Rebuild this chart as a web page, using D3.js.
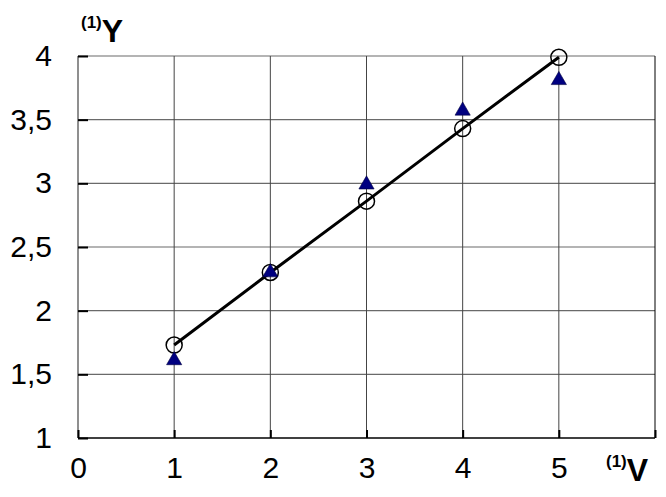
<!DOCTYPE html>
<html>
<head>
<meta charset="utf-8">
<script src="https://cdn.jsdelivr.net/npm/d3@7"></script>
<style>
html,body{margin:0;padding:0;background:#fff;}
svg{display:block;font-family:"Liberation Sans",Arial,sans-serif;}
</style>
</head>
<body>
<div id="chart"></div>
<script>
const xValues = [1, 2, 3, 4, 5];
const fitValues = [1.73, 2.30, 2.86, 3.43, 3.99];
const measuredValues = [1.61, 2.30, 2.99, 3.57, 3.81];
const xTicks = [0, 1, 2, 3, 4, 5, 6];
const xTickLabels = ["0", "1", "2", "3", "4", "5", ""];
const yTicks = [1, 1.5, 2, 2.5, 3, 3.5, 4];
const yTickLabels = ["1", "1,5", "2", "2,5", "3", "3,5", "4"];

const W = 666, H = 497;
const svg = d3.select("#chart").append("svg").attr("width", W).attr("height", H);

const x = d3.scaleLinear().domain([0, 6]).range([78, 655]);
const y = d3.scaleLinear().domain([1, 4]).range([438, 56]);

const grid = svg.append("g");
grid.selectAll("line.h").data(yTicks.slice(1)).enter().append("line")
  .attr("x1", x(0)).attr("x2", x(6))
  .attr("y1", d => y(d)).attr("y2", d => y(d))
  .attr("stroke", "#6a6a6a").attr("stroke-width", 1.2);
grid.selectAll("line.v").data(xTicks.slice(1)).enter().append("line")
  .attr("x1", d => x(d)).attr("x2", d => x(d))
  .attr("y1", y(1)).attr("y2", y(4))
  .attr("stroke", d => d === 6 ? "#000" : "#444").attr("stroke-width", 1);
svg.append("line").attr("x1", x(0)).attr("x2", x(0)).attr("y1", y(1)).attr("y2", y(4))
  .attr("stroke", "#6a6a6a").attr("stroke-width", 1.5);

const yAxis = d3.axisLeft(y).tickValues(yTicks).tickFormat((d, i) => yTickLabels[i]).tickSize(-10).tickPadding(26);
const gy = svg.append("g").attr("transform", `translate(${x(0)},0)`).call(yAxis);
gy.select(".domain").remove();
gy.selectAll(".tick line").attr("stroke", "#000").attr("stroke-width", 2);
gy.selectAll(".tick text").attr("font-size", 30).attr("fill", "#000")
  .attr("font-family", '"Liberation Sans",Arial,sans-serif');

const xAxis = d3.axisBottom(x).tickValues(xTicks).tickFormat((d, i) => xTickLabels[i]).tickSize(-8).tickPadding(19);
const gx = svg.append("g").attr("transform", `translate(0,${y(1)})`).call(xAxis);
gx.select(".domain").attr("stroke", "#000").attr("stroke-width", 1.5).attr("d", `M${x(0)},0H${x(6)}`);
gx.selectAll(".tick line").attr("stroke", "#000").attr("stroke-width", 2);
gx.selectAll(".tick text").attr("font-size", 30).attr("fill", "#000")
  .attr("font-family", '"Liberation Sans",Arial,sans-serif');

const pts = xValues.map((v, i) => [v, fitValues[i]]);
svg.append("path").datum(pts)
  .attr("d", d3.line().x(d => x(d[0])).y(d => y(d[1])))
  .attr("fill", "none").attr("stroke", "#000").attr("stroke-width", 3);

svg.selectAll("circle.fit").data(pts).enter().append("circle")
  .attr("cx", d => x(d[0])).attr("cy", d => y(d[1])).attr("r", 8)
  .attr("fill", "none").attr("stroke", "#000").attr("stroke-width", 1.5);

const tri = d3.symbol().type(d3.symbolTriangle).size(100);
svg.selectAll("path.meas").data(xValues.map((v, i) => [v, measuredValues[i]])).enter().append("path")
  .attr("d", tri)
  .attr("transform", d => `translate(${x(d[0])},${y(d[1])})`)
  .attr("fill", "#000080").attr("stroke", "#000040").attr("stroke-width", 0.6);

const yt = svg.append("text").attr("x", 81).attr("y", 42).attr("font-weight", "bold");
yt.append("tspan").attr("font-size", 17).attr("dy", -14).text("(1)");
yt.append("tspan").attr("font-size", 32).attr("dy", 14).text("Y");

const xt = svg.append("text").attr("x", 606).attr("y", 481).attr("font-weight", "bold");
xt.append("tspan").attr("font-size", 17).attr("dy", -14).text("(1)");
xt.append("tspan").attr("font-size", 32).attr("dy", 14).text("V");
</script>
</body>
</html>
